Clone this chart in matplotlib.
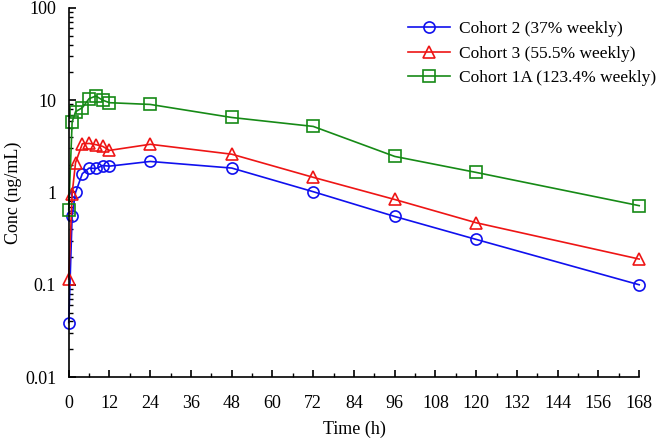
import matplotlib
matplotlib.use('Agg')
import matplotlib.pyplot as plt
from matplotlib.ticker import FixedLocator, LogLocator, NullFormatter

plt.rcParams['font.family'] = ['Liberation Serif', 'DejaVu Serif']

# Sampling times (h)
time_h = [0, 1, 2, 4, 6, 8, 10, 12, 24, 48, 72, 96, 120, 168]

# Concentrations (ng/mL)
cohort2 = [0.039, 0.56, 1.0, 1.6, 1.84, 1.82, 1.96, 1.93, 2.17, 1.84, 1.02, 0.55, 0.31, 0.10]
cohort3 = [0.115, 0.97, 2.1, 3.38, 3.4, 3.3, 3.16, 2.86, 3.33, 2.6, 1.46, 0.84, 0.47, 0.19]
cohort1a = [0.65, 5.8, 7.5, 8.3, 10.4, 11.1, 10.0, 9.4, 9.0, 6.5, 5.2, 2.46, 1.65, 0.72]

labels = ['Cohort 2 (37% weekly)', 'Cohort 3 (55.5% weekly)', 'Cohort 1A (123.4% weekly)']
x_ticks = list(range(0, 169, 12))
y_ticks = [0.01, 0.1, 1, 10, 100]
y_ticklabels = ['0.01', '0.1', '1', '10', '100']

fig = plt.figure(figsize=(6.61, 4.41), dpi=100)
ax = fig.add_axes([0.104, 0.145, 0.863, 0.837])

ax.plot(time_h, cohort2, color='#1010ee', marker='o', markersize=8,
        markerfacecolor='none', markeredgewidth=1.2, linewidth=1.2,
        label=labels[0], clip_on=False)
ax.plot(time_h, cohort3, color='#ee1515', marker='^', markersize=9,
        markerfacecolor='none', markeredgewidth=1.2, linewidth=1.2,
        label=labels[1], clip_on=False)
ax.plot(time_h, cohort1a, color='#168a16', marker='s', markersize=8,
        markerfacecolor='none', markeredgewidth=1.2, linewidth=1.2,
        label=labels[2], clip_on=False)

ax.set_yscale('log')
ax.set_ylim(0.01, 100)
ax.set_xlim(0, 168)

ax.set_yticks(y_ticks)
ax.set_yticklabels(y_ticklabels)
ax.yaxis.set_minor_locator(LogLocator(base=10, subs=range(2, 10)))
ax.yaxis.set_minor_formatter(NullFormatter())

ax.set_xticks(x_ticks)
ax.xaxis.set_minor_locator(FixedLocator([t + 6 for t in x_ticks[:-1]]))

ax.spines['top'].set_visible(False)
ax.spines['right'].set_visible(False)
for s in ['left', 'bottom']:
    ax.spines[s].set_linewidth(1.2)

ax.tick_params(which='major', direction='in', length=5, width=1.2, labelsize=13)
ax.tick_params(axis='x', which='major', pad=13)
ax.tick_params(axis='y', which='major', pad=9)
ax.tick_params(which='minor', direction='in', length=3, width=1.0)

ax.set_xlabel('Time (h)', fontsize=13, labelpad=6)
ax.set_ylabel('Conc (ng/mL)', fontsize=13, labelpad=2)

ax.legend(loc='upper left', frameon=False, fontsize=12.5, handlelength=2.4,
          handletextpad=0.55, borderaxespad=0, labelspacing=0.48,
          bbox_to_anchor=(401 / 661, 1 - 14 / 441), bbox_transform=fig.transFigure)

fig.savefig('out.png', dpi=100, facecolor='white')
